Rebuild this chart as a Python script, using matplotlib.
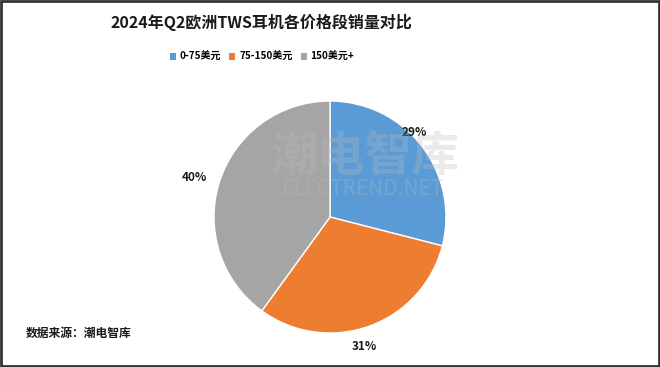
import matplotlib
matplotlib.use("Agg")
import matplotlib.pyplot as plt
from matplotlib.patches import Rectangle

plt.rcParams['font.family'] = ['Noto Sans CJK SC', 'DejaVu Sans']

title = "2024年Q2欧洲TWS耳机各价格段销量对比"
categories = ["0-75美元", "75-150美元", "150美元+"]
values = [29, 31, 40]
colors = ["#5B9BD5", "#ED7D31", "#A5A5A5"]
source = "数据来源：潮电智库"

W, H = 660, 367
fig = plt.figure(figsize=(W / 100, H / 100), dpi=100)
fig.patch.set_facecolor("white")

# pie axes: center (330,217), radius 116 px
r = 116
cx, cy = 330, 217
ax = fig.add_axes([(cx - r) / W, (H - cy - r) / H, 2 * r / W, 2 * r / H])
wedges, texts = ax.pie(values, colors=colors, startangle=90, counterclock=False,
                       wedgeprops=dict(edgecolor="white", linewidth=1.0))
ax.set_xlim(-1, 1)
ax.set_ylim(-1, 1)
ax.set_aspect("equal")
ax.axis("off")

# percentage labels outside the pie
label_pos = [(0.73, 0.73), (0.30, -1.12), (-1.17, 0.34)]
for v, (lx, ly) in zip(values, label_pos):
    ax.text(lx, ly, f"{v}%", ha="center", va="center", fontsize=8.5,
            fontweight="bold", color="#1a1a1a", clip_on=False)

# title
fig.text(261 / W, 1 - 22 / H, title, ha="center", va="center", fontsize=11.5,
         fontweight="bold", color="#1a1a1a")

# legend
handles = [Rectangle((0, 0), 1, 1, facecolor=c) for c in colors]
fig.legend(handles, categories, loc="center", bbox_to_anchor=(262 / W, 1 - 57 / H),
           ncol=3, frameon=False, prop=dict(size=7.2, weight="bold"),
           handlelength=0.6, handleheight=0.6, handletextpad=0.4, columnspacing=0.8)

# source
fig.text(26 / W, 1 - 333 / H, source, ha="left", va="center", fontsize=8.5,
         fontweight="bold", color="#1a1a1a")

# watermark
fig.text(365 / W, 1 - 157 / H, "潮电智库", ha="center", va="center", fontsize=34,
         fontweight="bold", color="#bbbbbb", alpha=0.3, zorder=10)
fig.text(363 / W, 1 - 189 / H, "ELECTREND.NET", ha="center", va="center", fontsize=15,
         color="#bbbbbb", alpha=0.3, zorder=10)

# border
fig.add_artist(Rectangle((0.002, 0.003), 0.996, 0.994, transform=fig.transFigure,
                         fill=False, edgecolor="#333333", linewidth=2))

fig.savefig("out.png", dpi=100)
